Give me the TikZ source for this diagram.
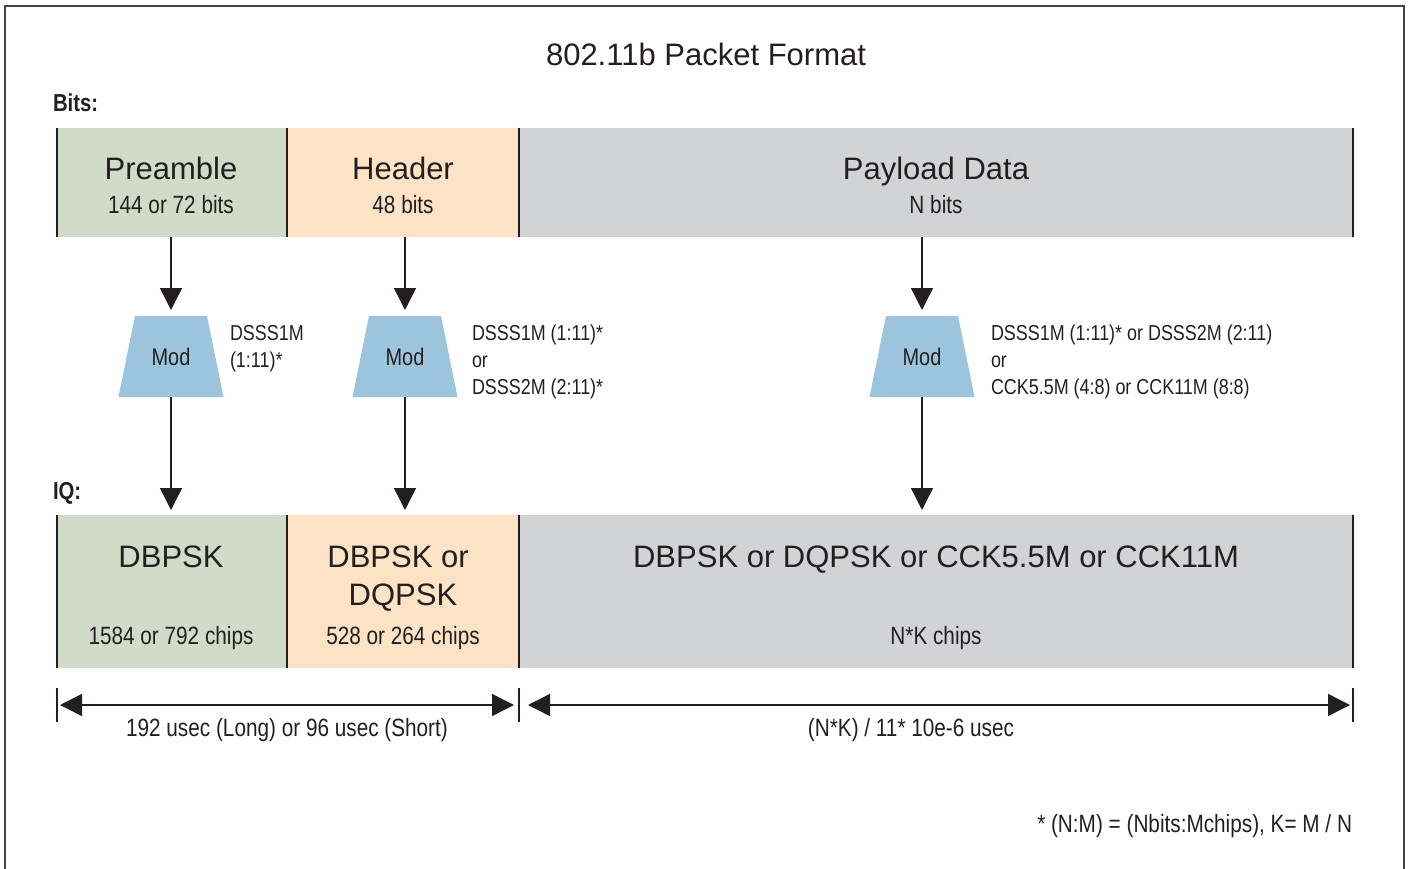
\documentclass[tikz,border=0pt]{standalone}
\usepackage{fontspec}
\setmainfont{Liberation Sans}
\newfontfamily\cond[FakeStretch=0.83]{Liberation Sans}
\usetikzlibrary{shapes.geometric,arrows.meta}
\definecolor{cgreen}{HTML}{D0DCC7}
\definecolor{cpeach}{HTML}{FDE3C5}
\definecolor{cgrey}{HTML}{D2D3D5}
\definecolor{cmod}{HTML}{9DC4DD}
\definecolor{txtc}{HTML}{231F20}
\tikzset{
  band/.style={rectangle, draw=none, inner sep=0pt, outer sep=0pt, anchor=north west},
  sepline/.style={line width=1.8pt, draw=txtc},
  txt/.style={inner sep=0pt, outer sep=0pt, text depth=0pt, text=txtc},
  big/.style={txt, text height=22pt, font=\fontsize{31}{36}\selectfont},
  small/.style={txt, text height=18pt, font=\cond\fontsize{25}{30}\selectfont},
  note/.style={txt, text height=15.5pt, anchor=west, font=\cond\fontsize{21.6}{26}\selectfont},
  lab/.style={txt, text height=17pt, anchor=west, font=\cond\bfseries\fontsize{24.5}{28}\selectfont},
  modbox/.style={rectangle, minimum width=105pt, minimum height=81pt, inner sep=0pt, outer sep=0pt,
    text=txtc, text height=17pt, text depth=0pt, font=\cond\fontsize{24}{28}\selectfont},
  modfill/.style={fill=cmod},
  arr/.style={line width=1.4pt, draw=txtc, -{Triangle[width=22pt,length=22pt]}},
  dimarr/.style={line width=1.4pt, draw=txtc, {Triangle[width=22pt,length=22pt]}-{Triangle[width=22pt,length=22pt]}},
  tick/.style={line width=1.4pt, draw=txtc},
  frame/.style={line width=1.2pt, draw=txtc!85}
}
\begin{document}
\begin{tikzpicture}[x=1pt,y=-1pt]
\useasboundingbox (0,0) rectangle (1408,869);
\draw[frame] (5,869) -- (5,6) -- (1404,6) -- (1404,869);

% title
\node[big] (title) at (706,55) {802.11b Packet Format};
\node[lab] (bitslab) at (53,103) {Bits:};
\node[lab] (iqlab) at (53,491) {IQ:};

% bit bands
\node[band, fill=cgreen, minimum width=230pt, minimum height=109pt] (pre) at (57,128) {};
\node[band, fill=cpeach, minimum width=232pt, minimum height=109pt] (hdr) at (287,128) {};
\node[band, fill=cgrey, minimum width=834pt, minimum height=109pt] (pay) at (519,128) {};
\draw[sepline] (pre.north west) -- (pre.south west);
\draw[sepline] (hdr.north west) -- (hdr.south west);
\draw[sepline] (pay.north west) -- (pay.south west);
\draw[sepline] (pay.north east) -- (pay.south east);

\node[big] (preT) at (171,169) {Preamble};
\node[small] (preS) at (171,205) {144 or 72 bits};
\node[big] (hdrT) at (403,169) {Header};
\node[small] (hdrS) at (403,205) {48 bits};
\node[big] (payT) at (936,169) {Payload Data};
\node[small] (payS) at (936,205) {N bits};

% modulators (trapezoids drawn from the node's corners)
\coordinate (mc1) at (171,356.5);
\coordinate (mc2) at (405,356.5);
\coordinate (mc3) at (922,356.5);
\foreach \i in {1,2,3}{
  \fill[modfill] ([shift={(-36pt,-40.5)}]mc\i) -- ([shift={(36pt,-40.5)}]mc\i)
     -- ([shift={(52.5pt,40.5)}]mc\i) -- ([shift={(-52.5pt,40.5)}]mc\i) -- cycle;
}
\node[modbox] (m1) at (mc1) {Mod};
\node[modbox] (m2) at (mc2) {Mod};
\node[modbox] (m3) at (mc3) {Mod};

\node[note] (n1a) at (230,333) {DSSS1M};
\node[note] (n1b) at (230,360) {(1:11)*};
\node[note] (n2a) at (472,333) {DSSS1M (1:11)*};
\node[note] (n2b) at (472,360) {or};
\node[note] (n2c) at (472,387) {DSSS2M (2:11)*};
\node[note] (n3a) at (991,333) {DSSS1M (1:11)* or DSSS2M (2:11)};
\node[note] (n3b) at (991,360) {or};
\node[note] (n3c) at (991,387) {CCK5.5M (4:8) or CCK11M (8:8)};

% IQ bands
\node[band, fill=cgreen, minimum width=230pt, minimum height=153pt] (iq1) at (57,515) {};
\node[band, fill=cpeach, minimum width=232pt, minimum height=153pt] (iq2) at (287,515) {};
\node[band, fill=cgrey, minimum width=834pt, minimum height=153pt] (iq3) at (519,515) {};
\draw[sepline] (iq1.north west) -- (iq1.south west);
\draw[sepline] (iq2.north west) -- (iq2.south west);
\draw[sepline] (iq3.north west) -- (iq3.south west);
\draw[sepline] (iq3.north east) -- (iq3.south east);

\node[big] (iq1T) at (171,556) {DBPSK};
\node[small] (iq1S) at (171,635) {1584 or 792 chips};
\node[big] (iq2T) at (398,556) {DBPSK or};
\node[big] (iq2U) at (403,594) {DQPSK};
\node[small] (iq2S) at (403,635) {528 or 264 chips};
\node[big] (iq3T) at (936,556) {DBPSK or DQPSK or CCK5.5M or CCK11M};
\node[small] (iq3S) at (936,635) {N*K chips};

% arrows bits -> mod -> IQ
\draw[arr, shorten >=6pt] (m1.north |- pre.south) -- (m1.north);
\draw[arr, shorten >=6pt] (m2.north |- hdr.south) -- (m2.north);
\draw[arr, shorten >=6pt] (m3.north |- pay.south) -- (m3.north);
\draw[arr, shorten >=5pt] (m1.south) -- (m1.south |- iq1.north);
\draw[arr, shorten >=5pt] (m2.south) -- (m2.south |- iq2.north);
\draw[arr, shorten >=5pt] (m3.south) -- (m3.south |- iq3.north);

% dimension lines
\coordinate (d0) at (57,705);
\coordinate (d1) at (519,705);
\coordinate (d2) at (1353,705);
\draw[tick] ([yshift=-17pt]d0) -- ([yshift=17pt]d0);
\draw[tick] ([yshift=-17pt]d1) -- ([yshift=17pt]d1);
\draw[tick] ([yshift=-17pt]d2) -- ([yshift=17pt]d2);
\draw[dimarr, shorten <=3pt, shorten >=5pt] (d0) -- (d1);
\draw[dimarr, shorten <=9pt, shorten >=3pt] (d1) -- (d2);
\node[small] (dimA) at (287,727) {192 usec (Long) or 96 usec (Short)};
\node[small] (dimB) at (911,727) {(N*K) / 11* 10e-6 usec};

% footnote
\node[small, anchor=east] (foot) at (1352,823) {* (N:M) = (Nbits:Mchips), K= M / N};
\end{tikzpicture}
\end{document}
